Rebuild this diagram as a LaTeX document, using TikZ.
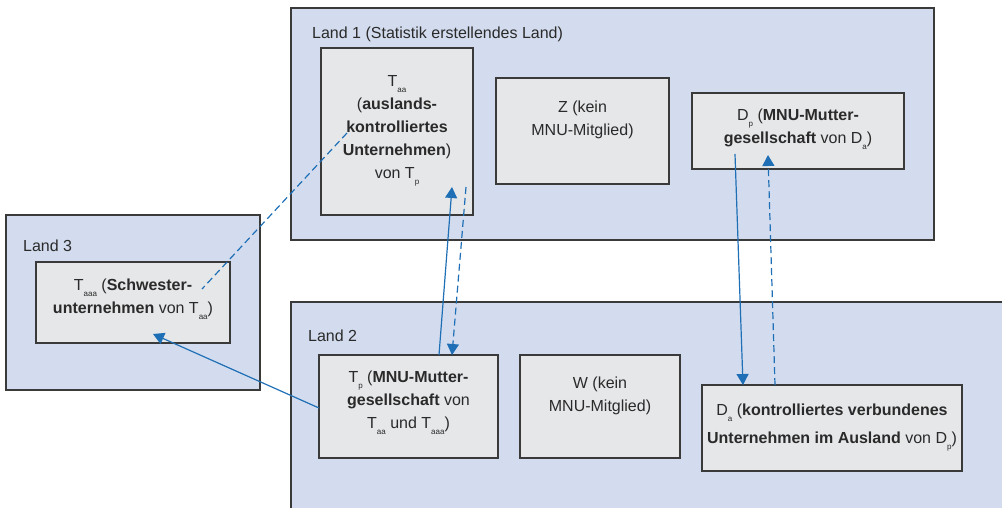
\documentclass[tikz,border=0pt]{standalone}
\usepackage{fontspec}
\setmainfont{Liberation Sans}
\usetikzlibrary{arrows.meta,calc}
\definecolor{landfill}{HTML}{D3DCEE}
\definecolor{boxfill}{HTML}{E6E7E9}
\definecolor{edgegray}{HTML}{3A3A3A}
\definecolor{textgray}{HTML}{2A2A2A}
\definecolor{arrowblue}{HTML}{1E6FB6}
\newcommand\sbs[1]{\raisebox{-6pt}{\fontsize{8}{8}\selectfont #1}}
\begin{document}
\begin{tikzpicture}[x=1pt,y=-1pt,
  landbox/.style={draw=edgegray,fill=landfill,line width=1.3pt,inner sep=0pt,outer sep=0pt},
  unitbox/.style={draw=edgegray,fill=boxfill,line width=1.3pt,inner sep=0pt,outer sep=0pt},
  labeltext/.style={text=textgray,font=\fontsize{16}{23}\selectfont,inner sep=0pt},
  boxtext/.style={text=textgray,font=\fontsize{16}{23}\selectfont,align=center,inner sep=0pt},
  link/.style={draw=arrowblue,line width=1.2pt},
  tip/.style={-{Triangle[length=11pt,width=12pt]}},
  dashlink/.style={dash pattern=on 7pt off 4pt}]
\useasboundingbox (0,0) rectangle (1002,507);
\begin{scope}
\clip (0,0) rectangle (1002,507);
\node[landbox,minimum width=643pt,minimum height=232pt] (land1) at (612.5,124) {};
\node[landbox,minimum width=254pt,minimum height=175pt] (land3) at (133,302.5) {};
\node[landbox,minimum width=729pt,minimum height=218pt] (land2) at (655.5,411) {};
\end{scope}
\node[labeltext,anchor=base west] (l1text) at (312,38) {Land 1 (Statistik erstellendes Land)};
\node[labeltext,anchor=base west] (l3text) at (23,251) {Land 3};
\node[labeltext,anchor=base west] (l2text) at (308,341) {Land 2};

\node[unitbox,minimum width=152pt,minimum height=167pt] (taa) at (397,131.5) {};
\node[unitbox,minimum width=173pt,minimum height=106pt] (z) at (582.5,131) {};
\node[unitbox,minimum width=212pt,minimum height=76pt] (dp) at (798,131) {};
\node[unitbox,minimum width=194pt,minimum height=81pt] (taaa) at (133,302.5) {};
\node[unitbox,minimum width=179pt,minimum height=103pt] (tp) at (408.5,406.5) {};
\node[unitbox,minimum width=160pt,minimum height=103pt] (w) at (600,406.5) {};
\node[unitbox,minimum width=260pt,minimum height=86pt] (da) at (832,428) {};

\node[boxtext] (taatext) at (397,131) {T\sbs{aa}\\(\textbf{auslands-}\\\textbf{kontrolliertes}\\\textbf{Unternehmen})\\von T\sbs{p}};
\node[boxtext] (ztext) at (582.5,120) {Z (kein\\MNU-Mitglied)};
\node[boxtext] (dptext) at (798,129.5) {D\sbs{p} (\textbf{MNU-Mutter-}\\\textbf{gesellschaft} von D\sbs{a})};
\node[boxtext] (taaatext) at (133,299.5) {T\sbs{aaa} (\textbf{Schwester-}\\\textbf{unternehmen} von T\sbs{aa})};
\node[boxtext] (tptext) at (408.5,403) {T\sbs{p} (\textbf{MNU-Mutter-}\\\textbf{gesellschaft} von\\T\sbs{aa} und T\sbs{aaa})};
\node[boxtext] (wtext) at (600,396) {W (kein\\MNU-Mitglied)};
\node[boxtext,font=\fontsize{16}{28}\selectfont] (datext) at (832,428) {D\sbs{a} (\textbf{kontrolliertes verbundenes}\\\textbf{Unternehmen im Ausland} von D\sbs{p})};

\draw[link,tip] ($(tp.north)+(30.5,0)$) -- ($(taa.south)+(55,-28)$);
\draw[link,tip,dashlink] ($(taa.south)+(69,-28)$) -- ($(tp.north)+(43.5,0)$);
\draw[link,dashlink] ($(taa.center)+(-50,1.5)$) -- ($(taaa.center)+(69,-13.5)$);
\draw[link,tip] ($(tp.west)+(0,1.5)$) -- ($(taaa.south)+(20,-9)$);
\draw[link,tip] ($(dp.center)+(-63,23)$) -- ($(da.north)+(-89,0)$);
\draw[link,tip,dashlink] ($(da.north)+(-57,0)$) -- ($(dp.center)+(-30,24)$);
\end{tikzpicture}
\end{document}
